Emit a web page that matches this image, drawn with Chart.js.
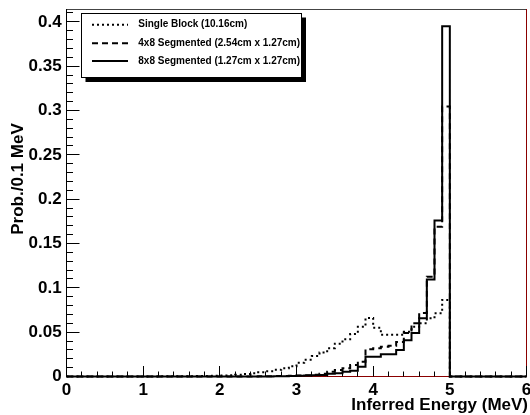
<!DOCTYPE html>
<html><head><meta charset="utf-8">
<script src="https://cdn.jsdelivr.net/npm/chart.js@4.4.0/dist/chart.umd.min.js"></script>
<style>html,body{margin:0;padding:0;background:#fff;}canvas{display:block;}</style>
</head><body>
<canvas id="c" width="530" height="415"></canvas>
<script>
// Bin lower edges (0.1 MeV bins) plus final upper edge
const binEdges = [0.0,0.1,0.2,0.3,0.4,0.5,0.6,0.7,0.8,0.9,
  1.0,1.1,1.2,1.3,1.4,1.5,1.6,1.7,1.8,1.9,
  2.0,2.1,2.2,2.3,2.4,2.5,2.6,2.7,2.8,2.9,
  3.0,3.1,3.2,3.3,3.4,3.5,3.6,3.7,3.8,3.9,
  4.0,4.1,4.2,4.3,4.4,4.5,4.6,4.7,4.8,4.9,
  5.0,5.1,5.2,5.3,5.4,5.5,5.6,5.7,5.8,5.9,6.0];

const singleBlock = [0,0,0,0,0,0,0,0,0,0,
  0.0001,0.0001,0.0002,0.0002,0.0003,0.0003,0.0004,0.0005,0.0007,0.0009,
  0.0012,0.0015,0.002,0.0028,0.0037,0.0048,0.006,0.0075,0.0093,0.0115,
  0.0155,0.019,0.023,0.027,0.032,0.037,0.042,0.048,0.056,0.066,
  0.055,0.047,0.047,0.047,0.0505,0.056,0.060,0.0657,0.0713,0.0863,
  0,0,0,0,0,0,0,0,0,0];

const seg4x8 = [0,0,0,0,0,0,0,0,0,0,
  0,0,0,0,0,0,0,0,0,0,
  0,0,0,0,0,0.0003,0.0004,0.0005,0.0007,0.0009,
  0.0012,0.0015,0.002,0.003,0.0054,0.0073,0.0092,0.013,0.0167,0.0307,
  0.0318,0.0335,0.0348,0.039,0.049,0.060,0.0717,0.1126,0.169,0.3045,
  0,0,0,0,0,0,0,0,0,0];

const seg8x8 = [0,0,0,0,0,0,0,0,0,0,
  0,0,0,0,0,0,0,0,0,0,
  0,0,0,0,0,0,0,0.0003,0.0004,0.0006,
  0.0008,0.001,0.0013,0.0018,0.003,0.0036,0.0054,0.0065,0.011,0.0223,
  0.0223,0.025,0.025,0.030,0.041,0.049,0.0657,0.1095,0.176,0.395,
  0,0,0,0,0,0,0,0,0,0];

const seriesLabels = ['Single Block (10.16cm)','4x8 Segmented (2.54cm x 1.27cm)','8x8 Segmented (1.27cm x 1.27cm)'];
const xTicks = [0,1,2,3,4,5,6];
const xTickLabels = ['0','1','2','3','4','5','6'];
const yTicks = [0,0.05,0.1,0.15,0.2,0.25,0.3,0.35,0.4];
const yTickLabels = ['0','0.05','0.1','0.15','0.2','0.25','0.3','0.35','0.4'];
const xTitle = 'Inferred Energy (MeV)';
const yTitle = 'Prob./0.1 MeV';

const FONT = '"Liberation Sans", Arial, Helvetica, sans-serif';

function toSteps(vals){
  const pts = vals.map((v,i)=>({x: binEdges[i], y: v}));
  pts.push({x: binEdges[vals.length], y: vals[vals.length-1]});
  return pts;
}

const styles = [
  {dash:[2,3], width:2},
  {dash:[6,4], width:2},
  {dash:[], width:2}
];

function hl(ctx,x1,y1,x2,y2){ctx.beginPath();ctx.moveTo(x1,y1);ctx.lineTo(x2,y2);ctx.stroke();}
function snap(v){return Math.round(v-0.5)+0.5;}

const rootPlugin = {
  id:'rootStyle',
  beforeDatasetsDraw(chart){
    const {ctx, chartArea:a} = chart;
    ctx.save(); ctx.lineWidth=1; ctx.setLineDash([]);
    ctx.strokeStyle='#444';
    hl(ctx,a.left,snap(a.top),a.right+0.5,snap(a.top));
    ctx.strokeStyle='#8b0000';
    hl(ctx,snap(a.right),a.top,snap(a.right),a.bottom);
    hl(ctx,a.left,snap(a.bottom),a.right,snap(a.bottom));
    ctx.restore();
  },
  afterDatasetsDraw(chart){
    const {ctx, chartArea:a, scales} = chart;
    const xs = scales.x, ys = scales.y;
    ctx.save(); ctx.lineWidth=1; ctx.setLineDash([]); ctx.strokeStyle='#000';
    hl(ctx,snap(a.left),a.top,snap(a.left),a.bottom+0.5);
    for (let k=0;k<=41;k++){
      const v = k*0.01;
      if (v > ys.max) break;
      const py = snap(ys.getPixelForValue(v));
      const major = (k%5===0);
      hl(ctx,a.left,py,a.left+(major?13:6.5),py);
    }
    for (let k=0;k<=30;k++){
      const v = k*0.2;
      const px = snap(xs.getPixelForValue(v));
      const major = (k%5===0);
      hl(ctx,px,a.bottom,px,a.bottom-(major?10.5:5));
    }
    ctx.fillStyle='#000';
    ctx.font = 'bold 17px '+FONT;
    ctx.textAlign='right'; ctx.textBaseline='alphabetic';
    ctx.fillText(xTitle, 528, 410);
    ctx.save();
    ctx.translate(22.5, 179);
    ctx.rotate(-Math.PI/2);
    ctx.textAlign='center';
    ctx.fillText(yTitle, 0, 0);
    ctx.restore();
    ctx.restore();
  },
  afterDraw(chart){
    const ctx = chart.ctx;
    const bx=81.5, by=13.5, bw=220, bh=64;
    ctx.save();
    ctx.fillStyle='#000';
    ctx.fillRect(bx+4, by+4, bw+0.5, bh+0.5);
    ctx.fillStyle='#fff';
    ctx.fillRect(bx, by, bw, bh);
    ctx.strokeStyle='#000'; ctx.lineWidth=1; ctx.setLineDash([]);
    ctx.strokeRect(bx, by, bw, bh);
    const rows=[24.7,43.3,61];
    chart.data.datasets.forEach((ds,i)=>{
      ctx.save();
      ctx.strokeStyle='#000'; ctx.lineWidth=ds.borderWidth; ctx.lineCap='butt';
      ctx.setLineDash(ds.borderDash||[]);
      hl(ctx,92,rows[i],128,rows[i]);
      ctx.restore();
      ctx.fillStyle='#000';
      ctx.font='bold 10px '+FONT;
      ctx.textAlign='left'; ctx.textBaseline='middle';
      ctx.fillText(ds.label, 138.3, rows[i]);
    });
    ctx.restore();
  }
};

const seriesData = [singleBlock, seg4x8, seg8x8];
const datasets = seriesData.map((vals,i)=>({
  label: seriesLabels[i],
  data: toSteps(vals),
  stepped: true,
  borderColor:'#000',
  borderWidth: styles[i].width,
  borderDash: styles[i].dash,
  borderCapStyle:'butt',
  borderJoinStyle:'miter',
  pointRadius:0,
  fill:false,
  tension:0,
  clip:false,
  order: 2-i
}));

const tickFont = {family: FONT, size:17, weight:'bold'};

new Chart(document.getElementById('c'), {
  type:'line',
  data:{datasets},
  options:{
    responsive:false, animation:false, devicePixelRatio:1,
    layout:{padding:{top:9, right:3.5, left:0, bottom:0}},
    plugins:{legend:{display:false}, tooltip:{enabled:false}},
    events:[],
    scales:{
      x:{type:'linear', min:0, max:6,
        afterBuildTicks:s=>{s.ticks = xTicks.map(v=>({value:v}));},
        afterFit:s=>{s.height=38.5; s.paddingLeft=0; s.paddingRight=0; s.paddingTop=0; s.paddingBottom=0;},
        grid:{display:false, drawTicks:false, tickLength:0}, border:{display:false},
        ticks:{autoSkip:false, maxRotation:0, minRotation:0, padding:4, color:'#000', font:tickFont,
          callback:(v,idx)=>xTickLabels[idx]}
      },
      y:{type:'linear', min:0, max:0.4145,
        afterBuildTicks:s=>{s.ticks = yTicks.map(v=>({value:v}));},
        afterFit:s=>{s.width=66.5; s.paddingLeft=0; s.paddingRight=0; s.paddingTop=0; s.paddingBottom=0;},
        grid:{display:false, drawTicks:false, tickLength:0}, border:{display:false},
        ticks:{autoSkip:false, padding:4.8, color:'#000', font:tickFont,
          callback:(v,idx)=>yTickLabels[idx]}
      }
    }
  },
  plugins:[rootPlugin]
});
</script>
</body></html>
